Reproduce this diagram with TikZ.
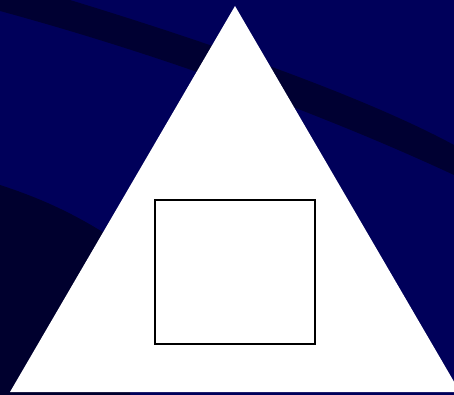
\documentclass[tikz,border=0pt]{standalone}
\usepackage{tikz}
\usetikzlibrary{positioning}

\definecolor{navybg}{RGB}{0,0,90}
\definecolor{navyband}{RGB}{0,0,50}
\definecolor{navyshade}{RGB}{0,0,46}

\begin{document}
\begin{tikzpicture}[x=1pt, y=-1pt,
    band/.style={fill=navyband},
    shade/.style={fill=navyshade},
    prism/.style={fill=white},
    frame/.style={draw=black, line width=2pt, fill=white, inner sep=0pt, outer sep=0pt}]
      \useasboundingbox (0,0) rectangle (454,395);
      \clip (0,0) rectangle (454,395);
      \fill[navybg] (0,0) rectangle (454,395);

      % dark bands behind the triangle
      \fill[band] (0,0) -- (70,0) .. controls (250,55) and (380,105) .. (454,145) -- (454,175) .. controls (340,122) and (180,60) .. (0,11) -- cycle;
      \fill[shade] (0,185) .. controls (40,198) and (80,215) .. (130,250) -- (130,395) -- (0,395) -- cycle;

      % triangle and the box on it
      \fill[prism] (235,6) -- (10,392) -- (460,392) -- cycle;
      \node[frame, minimum width=159.7pt, minimum height=143.4pt] (box) at (235.15,272) {};
    \end{tikzpicture}
\end{document}
